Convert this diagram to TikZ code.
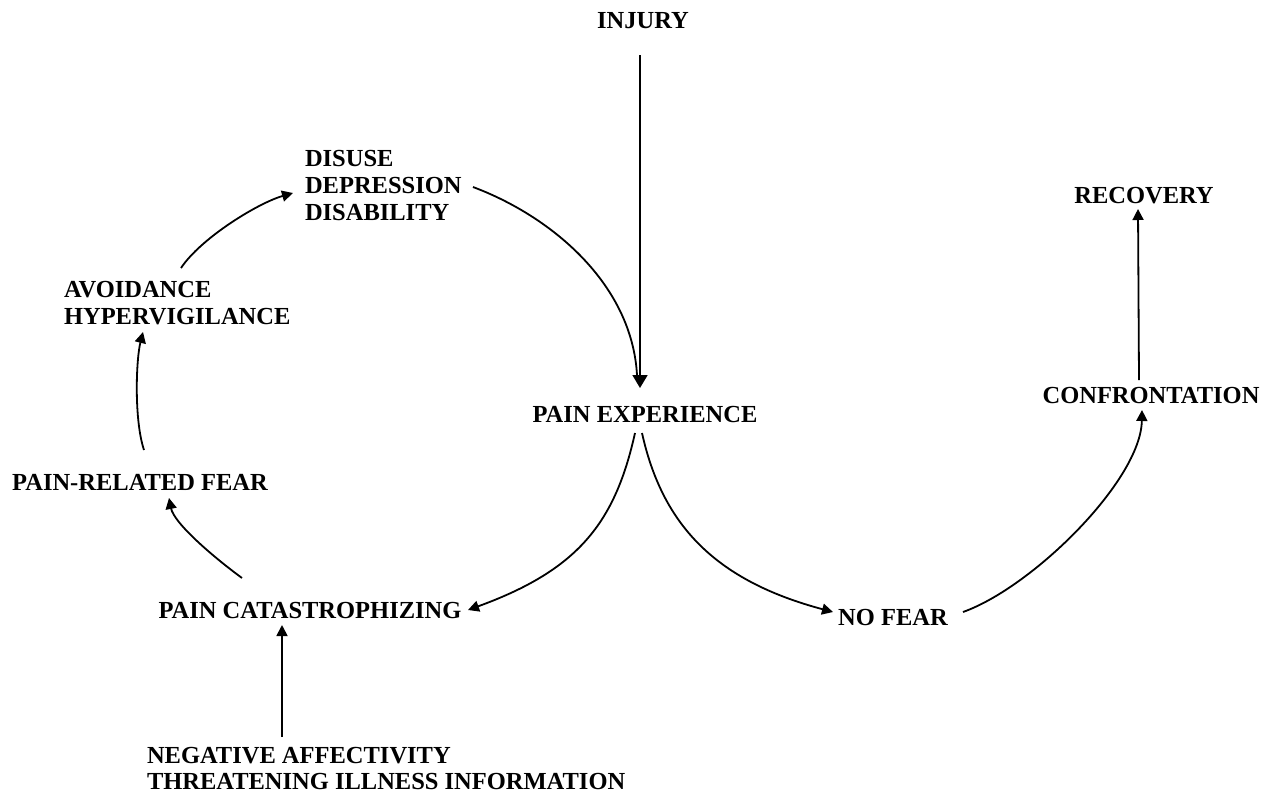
\documentclass[tikz,border=0pt]{standalone}
\usepackage{fontspec}
\setmainfont{Liberation Serif}
\usetikzlibrary{arrows.meta,calc}
\begin{document}
\begin{tikzpicture}[x=1pt,y=-1pt,
  lbl/.style={inner sep=0pt,outer sep=0pt,font=\fontsize{24.5}{27}\selectfont\bfseries},
  blk/.style={lbl,align=left,anchor=north west},
  conn/.style={line width=1.8pt,-{Triangle[length=11pt,width=11pt]}},
  bigconn/.style={line width=1.8pt,-{Triangle[length=13pt,width=15pt]}},
  plain/.style={line width=1.8pt}]
\useasboundingbox[fill=white] (0,0) rectangle (1277,796);

% nodes
\node[lbl,anchor=base] (inj) at (643,28) {INJURY};
\node[lbl,anchor=base] (pe) at (645,422) {PAIN EXPERIENCE};
\node[blk] (dis) at (305,150) {DISUSE\\DEPRESSION\\DISABILITY};
\node[blk] (av) at (64,281) {AVOIDANCE\\HYPERVIGILANCE};
\node[lbl,anchor=base] (prf) at (140,490) {PAIN-RELATED FEAR};
\node[lbl,anchor=base] (pc) at (310,618) {PAIN CATASTROPHIZING};
\node[blk,font=\fontsize{24.5}{26}\selectfont\bfseries] (neg) at (147,747) {NEGATIVE AFFECTIVITY\\THREATENING ILLNESS INFORMATION};
\node[lbl,anchor=base] (nf) at (893,625) {NO FEAR};
\node[lbl,anchor=base] (conf) at (1151,403) {CONFRONTATION};
\node[lbl,anchor=base] (rec) at (1144,203) {RECOVERY};

% connector end points
\coordinate (injs) at ($(inj.base)+(-3,27)$);
\coordinate (pet) at ($(pe.base)+(-5,-34)$);
\coordinate (diss) at ($(dis.north west)+(168,37)$);
\coordinate (pej) at ($(pe.base)+(-8,-47)$);
\coordinate (pel) at ($(pe.base)+(-10,11)$);
\coordinate (per) at ($(pe.base)+(-3,11)$);
\coordinate (pct) at ($(pe.base)+(-177,188)$);
\coordinate (nft) at ($(nf.base)+(-60,-13)$);
\coordinate (nfs) at ($(nf.base)+(70,-13)$);
\coordinate (conft) at ($(conf.base)+(-9,7)$);
\coordinate (confs) at ($(conf.base)+(-12,-23)$);
\coordinate (rect) at ($(rec.base)+(-6,6)$);
\coordinate (pcs) at ($(pc.base)+(-68,-40)$);
\coordinate (prft) at ($(prf.base)+(29,8)$);
\coordinate (prfs) at ($(prf.base)+(4,-40)$);
\coordinate (avt) at ($(av.north west)+(79,51)$);
\coordinate (avs) at ($(av.north west)+(117,-13)$);
\coordinate (dist) at ($(dis.north west)+(-12,43)$);
\coordinate (negs) at ($(neg.north west)+(135,-10)$);
\coordinate (pcb) at ($(pc.base)+(-28,7)$);

% connectors
\draw[bigconn] (injs) -- (pet);
\draw[plain] (diss) .. controls ($(diss)+(80,30)$) and ($(pej)+(-5,-90)$) .. (pej);
\draw[conn] (pel) .. controls ($(pel)+(-20,90)$) and ($(pct)+(110,-40)$) .. (pct);
\draw[conn] (per) .. controls ($(per)+(20,90)$) and ($(nft)+(-120,-32)$) .. (nft);
\draw[conn] (nfs) .. controls ($(nfs)+(70,-25)$) and ($(conft)+(-1,70)$) .. (conft);
\draw[conn] (confs) -- (rect);
\draw[conn] (pcs) .. controls ($(pcs)+(-30,-22)$) and ($(prft)+(5,25)$) .. (prft);
\draw[conn] (prfs) .. controls ($(prfs)+(-10,-30)$) and ($(avt)+(-7,28)$) .. (avt);
\draw[conn] (avs) .. controls ($(avs)+(20,-30)$) and ($(dist)+(-35,10)$) .. (dist);
\draw[conn] (negs) -- (pcb);
\end{tikzpicture}
\end{document}
